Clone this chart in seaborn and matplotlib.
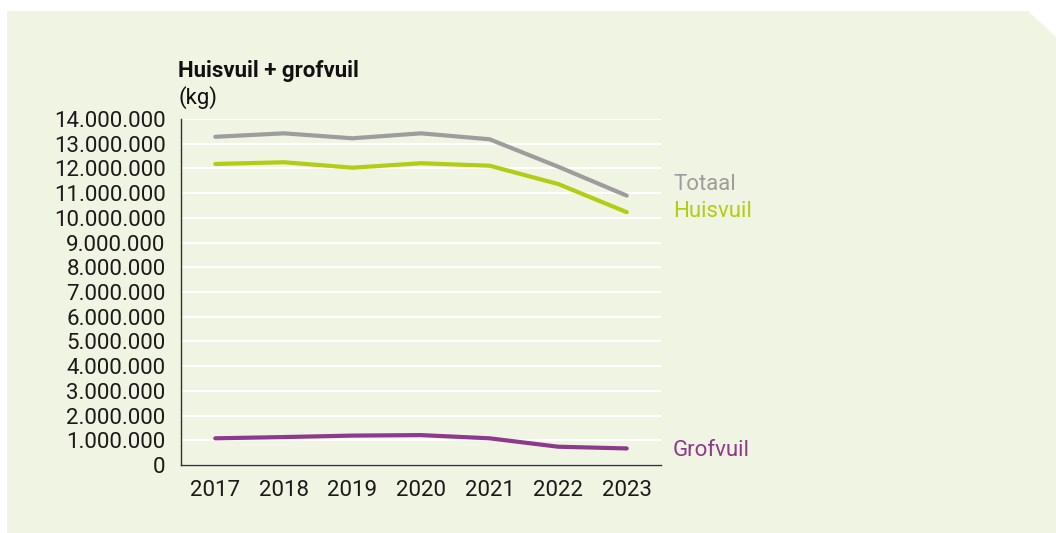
import pandas as pd
import numpy as np
import seaborn as sns
import matplotlib.pyplot as plt
from matplotlib.patches import Polygon
from matplotlib.ticker import FuncFormatter, MultipleLocator

# data (kg)
years = [2017, 2018, 2019, 2020, 2021, 2022, 2023]
totaal = [13280000, 13420000, 13220000, 13420000, 13180000, 12070000, 10900000]
huisvuil = [12180000, 12250000, 12030000, 12210000, 12110000, 11370000, 10230000]
grofvuil = [1080000, 1130000, 1190000, 1210000, 1080000, 740000, 670000]

series = ['Totaal', 'Huisvuil', 'Grofvuil']
colors = {'Totaal': '#9d9d9d', 'Huisvuil': '#b3cc14', 'Grofvuil': '#8e3a8c'}

df = pd.DataFrame({'jaar': years, 'Totaal': totaal, 'Huisvuil': huisvuil, 'Grofvuil': grofvuil})
long = df.melt(id_vars='jaar', var_name='soort', value_name='kg')

sns.set_theme(style='white')
plt.rcParams['font.family'] = ['Roboto', 'DejaVu Sans']

W, H = 1056, 533
fig = plt.figure(figsize=(W / 100, H / 100), dpi=100)
fig.patch.set_facecolor('white')

# light green panel with cut corner
pts = [(7, 11), (1028, 11), (1056, 37), (1056, 533), (7, 533)]
panel = Polygon([(x / W, 1 - y / H) for x, y in pts], closed=True,
                transform=fig.transFigure, facecolor='#f0f4e2', edgecolor='none', zorder=-5)
fig.patches.append(panel)

ax = fig.add_axes([181 / W, 1 - 465 / H, (661 - 181) / W, (465 - 119) / H])
ax.set_facecolor('none')
ax.set_zorder(2)

sns.lineplot(data=long, x='jaar', y='kg', hue='soort', hue_order=series, palette=colors,
             linewidth=3, legend=False, ax=ax, zorder=3)

ax.set_xlim(2016.5, 2023.5)
ax.set_ylim(0, 14000000)
ax.set_xticks(years)
ax.yaxis.set_major_locator(MultipleLocator(1000000))
ax.yaxis.set_major_formatter(FuncFormatter(lambda v, p: f"{int(v):,}".replace(',', '.')))
ax.grid(axis='y', color='white', linewidth=1.5)
ax.set_axisbelow(True)
ax.set_xlabel('')
ax.set_ylabel('')
for s in ['top', 'right']:
    ax.spines[s].set_visible(False)
for s in ['left', 'bottom']:
    ax.spines[s].set_color('#333333')
    ax.spines[s].set_linewidth(1)
ax.tick_params(axis='both', length=0, labelsize=16, colors='#1a1a1a')
ax.tick_params(axis='y', pad=11)
ax.tick_params(axis='x', pad=11)

# series labels at the right
label_y = {'Totaal': 184, 'Huisvuil': 211, 'Grofvuil': 451}
for s in series:
    fig.text(673 / W, 1 - label_y[s] / H, s, color=colors[s], fontsize=16, va='center', ha='left')

fig.text(178 / W, 1 - 71 / H, 'Huisvuil + grofvuil', fontsize=16, fontweight='bold',
         color='#111111', va='center', ha='left')
fig.text(178 / W, 1 - 98 / H, '(kg)', fontsize=16, color='#111111', va='center', ha='left')

fig.savefig('out.png', dpi=100)
